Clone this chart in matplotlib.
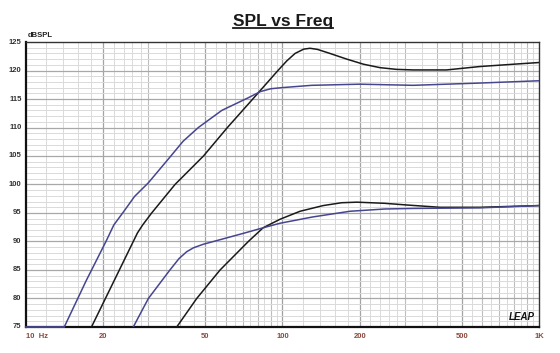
import numpy as np
import matplotlib
matplotlib.use('agg')
import matplotlib.pyplot as plt
from matplotlib.lines import Line2D

plt.rcParams['font.family'] = ['Liberation Sans', 'DejaVu Sans']

# curves (Hz, dB SPL)
upper_blue_f = [14.1, 17.2, 20.5, 22, 24, 26.5, 30, 36.4, 41, 47, 58, 73.4, 82, 90, 100, 130, 200, 323, 589, 1000]
upper_blue_db = [75, 83.2, 90, 92.9, 95.2, 97.9, 100.3, 104.8, 107.6, 110, 113, 115.2, 116.3, 116.8, 117.0, 117.4, 117.6, 117.4, 117.8, 118.2]

upper_black_f = [18.0, 20, 26.2, 27.2, 28.5, 30.9, 38.1, 49.2, 61, 76.6, 96, 104, 112, 121, 128, 137, 153, 178, 207, 240, 278, 323, 436, 589, 794, 1000]
upper_black_db = [75, 79.2, 90, 91.5, 92.9, 95, 100, 105, 110, 115, 120, 121.7, 123.0, 123.75, 123.9, 123.7, 123.0, 122.0, 121.1, 120.5, 120.2, 120.1, 120.1, 120.7, 121.1, 121.4]

lower_blue_f = [26.2, 30, 36.4, 39.5, 42.3, 45, 49, 58, 70, 84, 97.8, 131, 183, 250, 323, 589, 1000]
lower_blue_db = [75, 80, 85, 87.0, 88.2, 88.9, 89.5, 90.4, 91.4, 92.4, 93.2, 94.3, 95.3, 95.7, 95.8, 95.9, 96.3]

lower_black_f = [38.7, 46.3, 57.1, 73.6, 84, 97.8, 117, 144, 170, 195, 250, 306, 411, 589, 1000]
lower_black_db = [75, 80, 85, 90, 92.4, 93.9, 95.3, 96.3, 96.8, 96.9, 96.7, 96.4, 96.0, 96.0, 96.3]

x_ticks = [10, 20, 50, 100, 200, 500, 1000]
x_labels = ['10  Hz', '20', '50', '100', '200', '500', '1K']
y_ticks = [75, 80, 85, 90, 95, 100, 105, 110, 115, 120, 125]

BLUE = '#46468f'
fig = plt.figure(figsize=(5.6, 3.53), dpi=100)
ax = fig.add_axes([0.0464, 0.0737, 0.9161, 0.8073])
ax.set_xscale('log')
ax.set_xlim(10, 1000)
ax.set_ylim(75, 125)

# LEAP style grid
for dec in [10, 100]:
    for m in [1.2, 1.4, 1.6, 1.8, 2.2, 2.4, 2.6, 2.8]:
        ax.axvline(dec * m, color='#dadada', lw=0.7, zorder=0)
    for m in np.arange(3.5, 10, 1.0):
        ax.axvline(dec * m, color='#dadada', lw=0.7, zorder=0)
    for m in [3, 4, 6, 7, 8, 9]:
        ax.axvline(dec * m, color='#bdbdbd', lw=0.8, zorder=0)
    for m in [2, 5]:
        ax.axvline(dec * m, color='#a4a4a4', lw=0.9, zorder=0)
ax.axvline(100, color='#a0a0a0', lw=0.9, zorder=0)
for y in range(76, 125):
    if y % 5:
        ax.axhline(y, color='#dadada', lw=0.7, zorder=0)
    else:
        ax.axhline(y, color='#a8a8a8', lw=0.9, zorder=0)

floor = 75
ax.plot(upper_black_f, np.maximum(upper_black_db, floor), color='#1a1a1a', lw=1.1, zorder=3)
ax.plot(lower_black_f, np.maximum(lower_black_db, floor), color='#1a1a1a', lw=1.1, zorder=3)
ax.plot(upper_blue_f, np.maximum(upper_blue_db, floor), color=BLUE, lw=1.1, zorder=3)
ax.plot(lower_blue_f, np.maximum(lower_blue_db, floor), color=BLUE, lw=1.1, zorder=3)
# curves sit on the floor below 75 dB
ax.plot([10, upper_blue_f[0]], [75.05, 75.05], color=BLUE, lw=1.3, zorder=4, clip_on=False)

ax.set_xticks([])
ax.set_yticks([])
ax.minorticks_off()
for s in ['left', 'bottom']:
    ax.spines[s].set_linewidth(1.6)
    ax.spines[s].set_color('#111111')
for s in ['top', 'right']:
    ax.spines[s].set_linewidth(1.0)
    ax.spines[s].set_color('#333333')

for f, lab in zip(x_ticks, x_labels):
    ha = 'left' if f == 10 else 'center'
    ax.text(f, 74.0, lab, ha=ha, va='top', fontsize=5.5, fontweight='bold', color='#8a4a3c')
for y in y_ticks:
    ax.text(9.6, y, str(y), ha='right', va='center', fontsize=5.5, fontweight='bold', color='#333333')
ax.text(10.2, 125.6, 'dBSPL', ha='left', va='bottom', fontsize=5.5, fontweight='bold', color='#222222')
ax.text(960, 75.8, 'LEAP', ha='right', va='bottom', fontsize=7, fontweight='bold',
        fontstyle='italic', color='#111111', zorder=5)

title = fig.text(0.505, 0.94, 'SPL vs Freq', ha='center', va='center', fontsize=12.5, fontweight='bold', color='#1a1a1a')
fig.canvas.draw()
bb = title.get_window_extent().transformed(fig.transFigure.inverted())
fig.add_artist(Line2D([bb.x0, bb.x1], [bb.y0 + 0.002, bb.y0 + 0.002], color='#1a1a1a', lw=1.3))

fig.savefig('out.png', dpi=100)
